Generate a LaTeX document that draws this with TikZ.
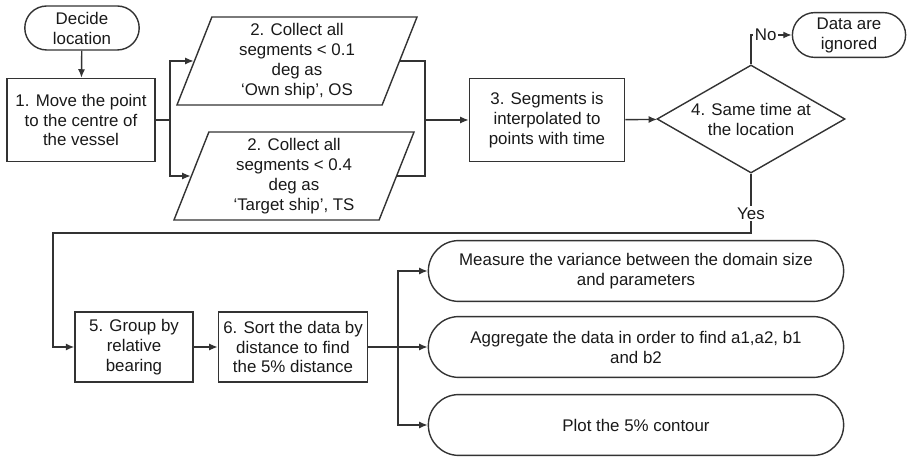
\documentclass[tikz,border=0pt]{standalone}
\usepackage{fontspec}
\setmainfont{Liberation Sans}
\usetikzlibrary{shapes.geometric, shapes.misc, arrows.meta}

\begin{document}
\begin{tikzpicture}[
    % one unit is one pixel of the original figure
    x = 0.025cm, y = -0.025cm,
    line width = 1pt,
    > = {Latex[length = 6pt, width = 5pt]},
    every node/.style = {font = \fontsize{12}{14.2}\selectfont,
      text = black!90, align = center, inner sep = 1pt},
    edge/.style = {draw = black!80, line width = 1pt},
    procbox/.style = {draw = black!80, rectangle, minimum height = 2.08cm},
    termbox/.style = {draw = black!80, rounded rectangle},
    iobox/.style = {draw = black!80, trapezium,
      trapezium left angle = 66, trapezium right angle = 114,
      trapezium stretches body,
      minimum width = 6cm, minimum height = 2.2cm},
    decbox/.style = {draw = black!80, diamond, aspect = 1.74,
      minimum width = 4.7cm, minimum height = 2.7cm},
    outbox/.style = {termbox, minimum width = 10.45cm, minimum height = 1.52cm},
    ]

    \useasboundingbox (0, 0) rectangle (908, 457);

    % top row
    \node[termbox, minimum width = 2.93cm, minimum height = 1.1cm] (start) at (82, 28) {Decide\\location};
    \node[procbox, minimum width = 3.7cm] (move) at (81, 120) {1. Move the point\\to the centre of\\the vessel};
    \node[iobox] (own) at (297, 61) {2. Collect all\\segments < 0.1\\deg as\\`Own ship', OS};
    \node[iobox] (target) at (294, 176) {2. Collect all\\segments < 0.4\\deg as\\`Target ship', TS};
    \node[procbox, minimum width = 3.88cm] (interp) at (547, 120) {3. Segments is\\interpolated to\\points with time};
    \node[decbox] (same) at (751, 119) {4. Same time at\\the location};
    \node[termbox, minimum width = 2.9cm, minimum height = 1.12cm] (ignored) at (849, 35) {Data are\\ignored};

    % bottom row
    \node[procbox, minimum width = 2.95cm, minimum height = 1.75cm] (group) at (134, 347) {5. Group by\\relative\\bearing};
    \node[procbox, minimum width = 3.73cm, minimum height = 1.75cm] (sort) at (293, 347) {6. Sort the data by\\distance to find\\the 5\% distance};
    \node[outbox] (measure) at (636, 271) {Measure the variance between the domain size\\and parameters};
    \node[outbox] (aggr) at (636, 347) {Aggregate the data in order to find a1,a2, b1\\and b2};
    \node[outbox] (plot) at (636, 425) {Plot the 5\% contour};

    % helper points of the connectors
    \coordinate (split) at (170, 120);
    \coordinate (merge) at (425, 120);
    \coordinate (yesc) at (751, 233);
    \coordinate (back) at (53, 233);
    \coordinate (fan) at (398, 347);

    % connectors
    \draw[edge, ->] (start) -- (move);
    \draw[edge] (move) -- (split);
    \draw[edge, ->] (split) |- (own);
    \draw[edge, ->] (split) |- (target);
    \draw[edge] (own) -| (merge);
    \draw[edge] (target) -| (merge);
    \draw[edge, ->] (merge) -- (interp);
    \draw[edge, ->] (interp) -- (same);
    \draw[edge, ->] (same.north) |- node[pos = 0.68, fill = white] {No} (ignored);
    \draw[edge, ->] (same.south) -- node[pos = 0.67, fill = white] {Yes} (yesc) -- (back) |- (group);
    \draw[edge, ->] (group) -- (sort);
    \draw[edge] (sort) -- (fan);
    \foreach \o in {measure, aggr, plot}
        \draw[edge, ->] (fan) |- (\o);

\end{tikzpicture}
\end{document}
